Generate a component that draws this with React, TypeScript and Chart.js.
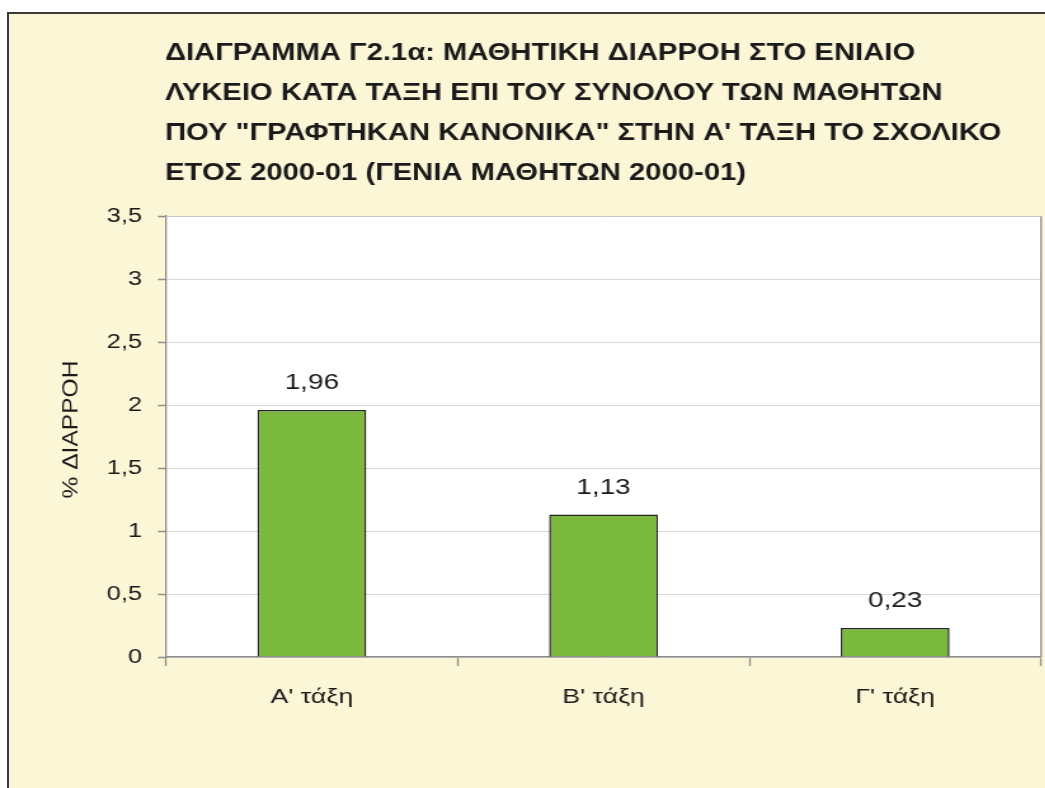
import React, { useEffect, useRef } from "react";
import { Chart, registerables } from "chart.js";

Chart.register(...registerables);

const titleLines = [
  "ΔΙΑΓΡΑΜΜΑ Γ2.1α: ΜΑΘΗΤΙΚΗ ΔΙΑΡΡΟΗ ΣΤΟ ΕΝΙΑΙΟ",
  "ΛΥΚΕΙΟ ΚΑΤΑ ΤΑΞΗ ΕΠΙ ΤΟΥ ΣΥΝΟΛΟΥ ΤΩΝ ΜΑΘΗΤΩΝ",
  "ΠΟΥ \"ΓΡΑΦΤΗΚΑΝ ΚΑΝΟΝΙΚΑ\" ΣΤΗΝ Α' ΤΑΞΗ ΤΟ ΣΧΟΛΙΚΟ",
  "ΕΤΟΣ 2000-01 (ΓΕΝΙΑ ΜΑΘΗΤΩΝ 2000-01)",
];
const categories = ["Α' τάξη", "Β' τάξη", "Γ' τάξη"];
const dropoutValues = [1.96, 1.13, 0.23];
const yAxisTitle = "% ΔΙΑΡΡΟΗ";
const yMin = 0;
const yMax = 3.5;
const yStep = 0.5;

const fmt = (v: number) => String(v).replace(".", ",");

const FONT = "'Liberation Sans', Arial, sans-serif";
const SX = 1.27; // horizontal stretch of the whole picture
const W = Math.round(1045 / SX);
const H = 788;

const plotAreaPlugin = {
  id: "plotArea",
  beforeDraw(chart: any) {
    const { ctx, chartArea: a } = chart;
    ctx.save();
    ctx.fillStyle = "#ffffff";
    ctx.fillRect(a.left, a.top, a.right - a.left, a.bottom - a.top);
    ctx.restore();
  },
  afterDraw(chart: any) {
    const { ctx, chartArea: a } = chart;
    ctx.save();
    ctx.strokeStyle = "#8c8c8c";
    ctx.lineWidth = 1.3;
    ctx.beginPath();
    ctx.moveTo(a.right, a.top);
    ctx.lineTo(a.right, a.bottom);
    ctx.stroke();
    ctx.strokeStyle = "#c8c8c8";
    ctx.lineWidth = 1;
    ctx.beginPath();
    ctx.moveTo(a.left, a.top + 0.5);
    ctx.lineTo(a.right, a.top + 0.5);
    ctx.stroke();
    // title
    ctx.fillStyle = "#1a1a1a";
    ctx.font = `bold 23px ${FONT}`;
    ctx.textAlign = "left";
    ctx.textBaseline = "alphabetic";
    titleLines.forEach((line, i) => {
      ctx.fillText(line, 165 / SX, 60 + i * 40);
    });
    // y axis title (stretched along its own direction, like the rest of the text)
    ctx.save();
    ctx.translate(72 / SX, (a.top + a.bottom) / 2 - 7);
    ctx.rotate(-Math.PI / 2);
    ctx.scale(1.17, 1 / SX);
    ctx.font = `21px ${FONT}`;
    ctx.textAlign = "center";
    ctx.textBaseline = "middle";
    ctx.fillText(yAxisTitle, 0, 0);
    ctx.restore();
    // data labels
    const meta = chart.getDatasetMeta(0);
    ctx.font = `22px ${FONT}`;
    ctx.fillStyle = "#1a1a1a";
    ctx.textAlign = "center";
    meta.data.forEach((bar: any, i: number) => {
      ctx.fillText(fmt(dropoutValues[i]), bar.x, bar.y - 21);
    });
    ctx.restore();
  },
};

export default function App() {
  const ref = useRef<HTMLCanvasElement | null>(null);
  useEffect(() => {
    if (!ref.current) return;
    const chart = new Chart(ref.current, {
      type: "bar",
      data: {
        labels: categories,
        datasets: [
          {
            data: dropoutValues,
            backgroundColor: "#7ab83e",
            borderColor: "#262626",
            borderWidth: 1.5,
            categoryPercentage: 1,
            barPercentage: 0.373,
          },
        ],
      },
      plugins: [plotAreaPlugin],
      options: {
        animation: false,
        responsive: false,
        events: [],
        layout: { padding: { left: 0, top: 216, right: W - 1041 / SX, bottom: 0 } },
        plugins: {
          legend: { display: false },
          title: { display: false },
          tooltip: { enabled: false },
        },
        scales: {
          x: {
            offset: true,
            grid: {
              offset: true,
              drawOnChartArea: false,
              drawTicks: true,
              tickLength: 9,
              tickColor: "#8c8c8c",
              tickWidth: 1.3,
            },
            border: { color: "#8c8c8c", width: 1.5 },
            ticks: {
              color: "#1a1a1a",
              font: { family: FONT, size: 21 },
              padding: 19,
              maxRotation: 0,
            },
            afterFit(scale: any) {
              scale.height = 131;
            },
          },
          y: {
            min: yMin,
            max: yMax,
            grid: {
              color: "#d9d9d9",
              lineWidth: 1,
              tickColor: "#8c8c8c",
              tickLength: 8 / SX,
              tickWidth: 1.5,
            },
            border: { color: "#8c8c8c", width: 1.3 },
            ticks: {
              stepSize: yStep,
              color: "#1a1a1a",
              font: { family: FONT, size: 20 },
              padding: 12.5,
              callback: (v: any) => fmt(Number(v)),
            },
            title: { display: false },
            afterFit(scale: any) {
              scale.width = 166 / SX;
            },
          },
        },
      },
    });
    return () => chart.destroy();
  }, []);

  return (
    <>
      <div
        style={{
          position: "fixed",
          left: 7,
          top: 12,
          width: 1100,
          height: 900,
          border: "2px solid #3a3a3a",
          background: "#fbf7d6",
          boxSizing: "border-box",
        }}
      />
      <div
        style={{
          position: "fixed",
          left: 0,
          top: 0,
          width: W,
          height: H,
          transform: `scaleX(${SX})`,
          transformOrigin: "0 0",
        }}
      >
        <canvas
          ref={ref}
          width={W}
          height={H}
          style={{ display: "block", width: W, height: H }}
        />
      </div>
    </>
  );
}
